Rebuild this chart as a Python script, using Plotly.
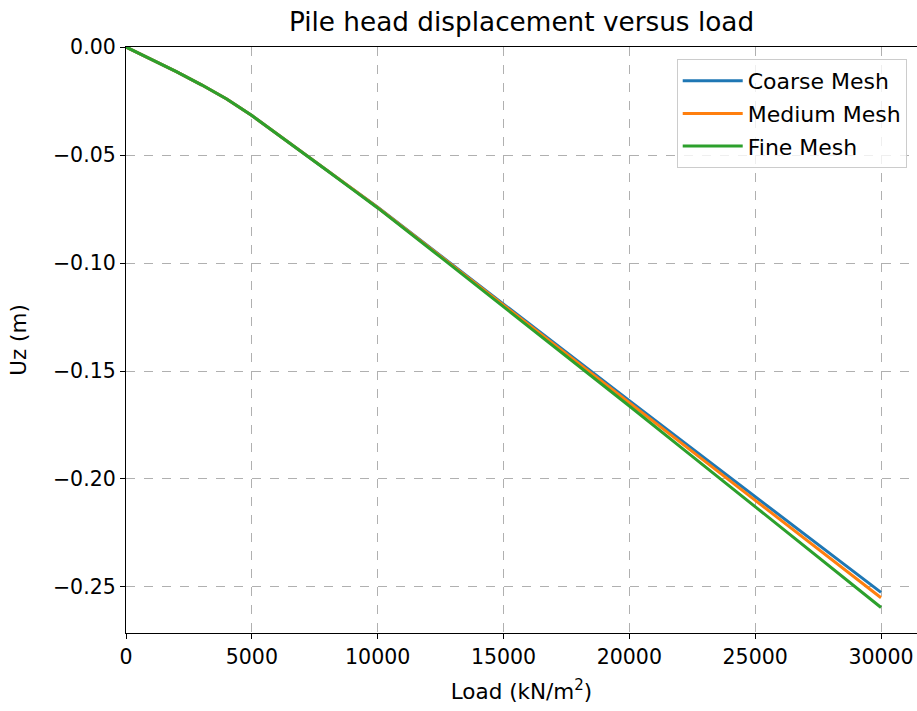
import plotly.graph_objects as go

# Load steps (kN/m2) and pile head vertical displacement (m)
load = [0, 1000, 2000, 3000, 4000, 5000, 6000, 7000, 8000, 9000, 10000,
        12500, 15000, 17500, 20000, 22500, 25000, 27500, 30000]
uz_coarse = [0, -0.0056, -0.0114, -0.0175, -0.0241, -0.0317, -0.0401, -0.0487, -0.0572, -0.0657, -0.0742,
             -0.0967, -0.1190, -0.1414, -0.1638, -0.1860, -0.2082, -0.2303, -0.2525]
uz_medium = [0, -0.0056, -0.0114, -0.0175, -0.0241, -0.0317, -0.0401, -0.0487, -0.0572, -0.0657, -0.0743,
             -0.0969, -0.1195, -0.1421, -0.1647, -0.1873, -0.2099, -0.2325, -0.2550]
uz_fine = [0, -0.0056, -0.0114, -0.0175, -0.0241, -0.0317, -0.0401, -0.0487, -0.0573, -0.0659, -0.0745,
           -0.0973, -0.1202, -0.1432, -0.1662, -0.1895, -0.2128, -0.2361, -0.2595]

names = ["Coarse Mesh", "Medium Mesh", "Fine Mesh"]
colors = ["#1f77b4", "#ff7f0e", "#2ca02c"]

fig = go.Figure()
for name, uz, c in zip(names, [uz_coarse, uz_medium, uz_fine], colors):
    fig.add_trace(go.Scatter(x=load, y=uz, mode="lines", name=name, legendgroup=name,
                             line=dict(color=c, width=3)))

axis_style = dict(showline=True, linecolor="black", linewidth=1.3, automargin=False,
                  ticks="outside", ticklen=5, tickcolor="black", tickwidth=1.3,
                  showgrid=True, gridcolor="#b0b0b0", griddash="dash", gridwidth=1,
                  zeroline=False, tickfont=dict(size=20.5, color="black"))

fig.update_layout(
    width=917, height=711,
    font=dict(family="DejaVu Sans", color="black", size=20),
    paper_bgcolor="white", plot_bgcolor="white",
    margin=dict(l=126, r=0, t=47, b=78, autoexpand=False),
    title=dict(text="Pile head displacement versus load", x=0.5, xref="paper",
               y=0.969, yanchor="middle", font=dict(size=26.3)),
    xaxis=dict(range=[0, 31430], tickvals=[0, 5000, 10000, 15000, 20000, 25000, 30000],
               tickformat="d", mirror=True,
               title=dict(text="Load (kN/m<sup>2</sup>)", standoff=16, font=dict(size=21.5)),
               **axis_style),
    yaxis=dict(range=[-0.2713, 0], tickvals=[0, -0.05, -0.10, -0.15, -0.20, -0.25],
               tickformat=".2f",
               title=dict(text="Uz (m)", standoff=20, font=dict(size=21.5)), **axis_style),
    legend=dict(x=0.987, y=0.9795, xanchor="right", yanchor="top",
                bgcolor="rgba(255,255,255,0.8)", bordercolor="#cccccc", borderwidth=1,
                font=dict(size=22), itemwidth=60, tracegroupgap=1),
    showlegend=True,
)

fig.write_html("out.html", config={"displayModeBar": False},
               post_script="document.body.style.margin='0';document.body.style.overflow='hidden';")
